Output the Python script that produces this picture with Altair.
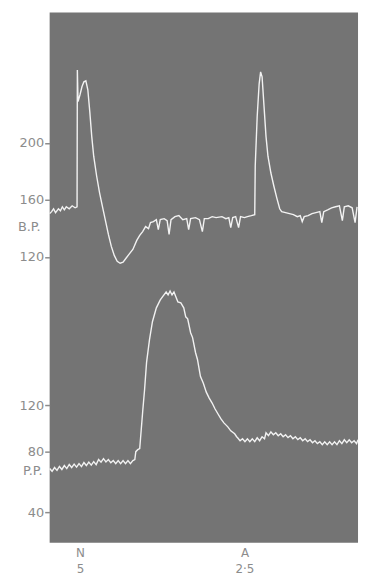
import altair as alt
import pandas as pd

# ---- data (time in arbitrary recording units, pressures in mm Hg) ----
bp_t = [0, 2, 4, 6, 9, 11, 13, 15, 17, 20, 23, 26, 28, 28.3, 29, 31, 33, 35, 37, 39,
        41, 43, 45, 48, 51, 54, 57, 60, 63, 66, 69, 72, 75, 78, 81, 85, 89, 92, 95, 98,
        101, 103, 106, 109, 111, 113, 117, 120, 122, 124, 128, 132, 136, 140, 142, 144,
        149, 153, 156, 158, 162, 166, 170, 176, 180, 183, 185, 187, 190, 193, 195, 199,
        202, 206, 209.5, 210, 212, 214, 215.5, 217, 219, 221, 223, 226, 229, 232, 235,
        237, 241, 245, 249, 253, 256, 258, 260, 264, 268, 272, 276, 278, 280, 284, 288,
        292, 296, 299, 301, 305, 309, 312, 314]
bp_v = [150.3, 151.7, 153.7, 151.0, 153.7, 152.3, 155.1, 153.0, 155.1, 153.7, 155.8,
        154.4, 155.1, 251.1, 228.9, 233.7, 239.3, 242.8, 243.5, 237.2, 221.9, 204.5,
        190.6, 176.7, 164.9, 155.1, 145.4, 135.7, 127.3, 121.0, 116.9, 115.5, 116.2,
        119.0, 121.7, 125.2, 131.5, 135.0, 137.7, 141.2, 139.8, 144.0, 144.7, 146.1,
        139.1, 146.1, 146.8, 145.4, 135.7, 146.1, 148.2, 148.9, 146.1, 146.8, 139.1,
        146.8, 147.5, 146.1, 137.7, 146.8, 146.8, 148.2, 147.5, 148.2, 146.8, 147.5,
        140.5, 147.5, 148.2, 140.5, 148.2, 147.5, 148.2, 148.9, 149.6, 183.7, 218.4,
        241.4, 249.7, 246.3, 225.4, 204.5, 190.6, 178.8, 169.7, 161.4, 153.7, 151.7,
        151.0, 150.3, 149.6, 148.2, 148.9, 144.7, 148.2, 148.9, 150.3, 151.0, 151.7,
        144.0, 151.7, 153.0, 154.4, 155.1, 155.8, 145.4, 155.1, 155.8, 154.4, 144.0,
        155.1]

pp_t = [0, 2.5, 5, 7.5, 10, 12.5, 15, 17.5, 20, 22.5, 25, 27.5, 30, 32.5, 35, 37.5,
        40, 42.5, 45, 47.5, 50, 52.5, 55, 57.5, 60, 62.5, 65, 67.5, 70, 72.5, 75, 77.5,
        80, 82.5, 85, 87, 88, 90, 92, 95, 97, 99, 102, 105, 109, 113, 116, 119, 121,
        123, 125, 127, 129, 131, 134, 137, 139, 141, 144, 146, 149, 151, 154, 157, 160,
        163, 166, 169, 172, 175, 178, 182, 185, 189, 191, 192, 194.5, 197, 199.5, 202,
        204.5, 207, 209.5, 212, 214.5, 217, 219.5, 221, 223.5, 226, 228.5, 231, 233.5,
        236, 238.5, 241, 243.5, 246, 248.5, 251, 253.5, 256, 258.5, 261, 263.5, 266,
        268.5, 271, 273.5, 276, 278.5, 281, 283.5, 286, 288.5, 291, 293.5, 296, 298.5,
        301, 303.5, 306, 308.5, 311, 313.5, 315]
pp_v = [68.9, 67.0, 69.5, 67.6, 70.2, 68.2, 70.8, 68.8, 71.5, 69.5, 71.8, 69.8, 72.1,
        70.1, 72.8, 70.8, 73.1, 71.1, 73.4, 71.4, 74.8, 73.0, 75.4, 73.2, 74.8, 72.6,
        74.1, 72.1, 74.1, 72.1, 74.1, 72.1, 74.1, 72.1, 74.1, 74.8, 80.0, 81.7, 82.6,
        114.0, 133.6, 156.6, 176.2, 191.5, 203.4, 210.2, 213.7, 217.0, 214.5, 217.9,
        214.5, 217.0, 212.8, 208.5, 207.7, 203.4, 195.7, 194.0, 182.1, 177.9, 165.1,
        159.1, 144.7, 138.7, 131.1, 126.0, 121.7, 116.6, 112.3, 108.1, 104.7, 101.3,
        97.9, 95.3, 92.8, 91.9, 89.4, 91.1, 88.6, 91.1, 88.6, 91.1, 88.6, 91.9, 89.4,
        92.8, 91.0, 96.2, 93.7, 97.0, 94.5, 96.2, 93.7, 95.3, 92.8, 94.5, 92.0, 93.6,
        91.1, 92.8, 90.3, 91.9, 89.4, 91.1, 88.6, 90.2, 87.7, 89.4, 86.9, 88.5, 86.0,
        88.5, 86.0, 88.5, 86.0, 88.5, 86.0, 89.4, 86.9, 90.2, 87.7, 90.2, 87.7, 89.4,
        86.9, 90.2]

bp_ticks = [120, 160, 200]
pp_ticks = [40, 80, 120]
event_t = [31, 199]
event_labels = [["N", "5"], ["A", "2·5"]]
trace_labels = ["B.P.", "P.P."]
trace_label_values = [141, 67.5]

# ---- styling ----
FONT = "DejaVu Sans"
LABEL_GREY = "#8c8c8c"
PANEL = "#747474"
TRACE = "#f2f2f2"
W = 311

bp_df = pd.DataFrame({"t": bp_t, "v": bp_v})
pp_df = pd.DataFrame({"t": pp_t, "v": pp_v})

xscale = alt.Scale(domain=[0, 315], nice=False, zero=False)

label_expr = "datum.value < 100 ? ['%s','%s'] : ['%s','%s']" % (
    event_labels[0][0], event_labels[0][1], event_labels[1][0], event_labels[1][1])

y_axis_common = dict(domain=False, grid=False, labelFont=FONT, labelFontSize=13,
                     labelColor=LABEL_GREY, tickColor=LABEL_GREY, tickSize=5,
                     tickWidth=1.5, labelPadding=1, title=None)

bp_scale = alt.Scale(domain=[98.1, 291.5], nice=False, zero=False)
bp_line = alt.Chart(bp_df).mark_line(color=TRACE, strokeWidth=1.4).encode(
    x=alt.X("t:Q", scale=xscale, axis=None),
    y=alt.Y("v:Q", scale=bp_scale, axis=alt.Axis(values=bp_ticks, **y_axis_common)),
)
bp_text = alt.Chart(pd.DataFrame({"lab": [trace_labels[0]], "v": [trace_label_values[0]]})).mark_text(
    font=FONT, fontSize=13, color=LABEL_GREY, align="right", baseline="middle"
).encode(x=alt.value(-9), y=alt.Y("v:Q", scale=bp_scale), text="lab:N")
top = alt.layer(bp_line, bp_text).properties(width=W, height=278)

pp_scale = alt.Scale(domain=[40, 80, 120], range=[226, 165, 118], nice=False, zero=False)
pp_line = alt.Chart(pp_df).mark_line(color=TRACE, strokeWidth=1.4).encode(
    x=alt.X("t:Q", scale=xscale,
            axis=alt.Axis(values=event_t, labelExpr=label_expr, domain=False, ticks=False,
                          grid=False, labelFont=FONT, labelFontSize=12,
                          labelColor=LABEL_GREY, labelLineHeight=16, labelPadding=5,
                          labelAlign="center", labelBaseline="top", title=None)),
    y=alt.Y("v:Q", scale=pp_scale, axis=alt.Axis(values=pp_ticks, **y_axis_common)),
)
pp_text = alt.Chart(pd.DataFrame({"lab": [trace_labels[1]], "v": [trace_label_values[1]]})).mark_text(
    font=FONT, fontSize=13, color=LABEL_GREY, align="right", baseline="middle"
).encode(x=alt.value(-7), y=alt.Y("v:Q", scale=pp_scale), text="lab:N")
bottom = alt.layer(pp_line, pp_text).properties(width=W, height=257)

chart = alt.vconcat(top, bottom, spacing=0).properties(
    padding={"left": 10, "top": 2, "right": 0, "bottom": 0},
    background="white",
).configure_view(fill=PANEL, strokeWidth=0)

chart.save("out.html", embed_options={"renderer": "svg", "actions": False})
